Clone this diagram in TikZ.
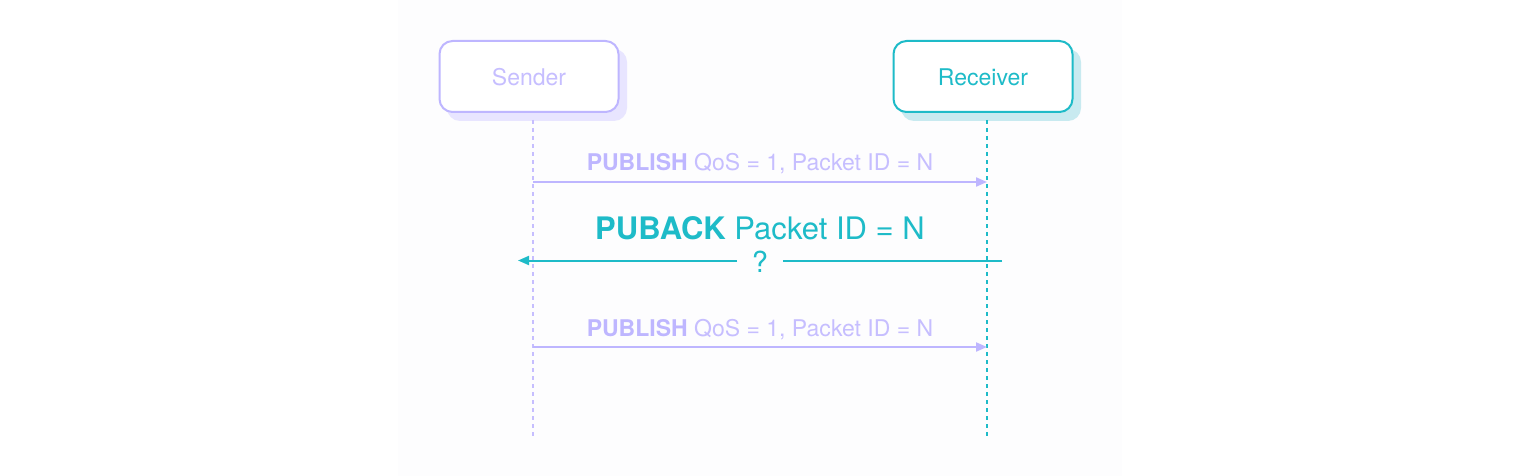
\documentclass[tikz,border=0pt]{standalone}
\usepackage{fontspec}
\setmainfont{TeX Gyre Heros}
\usetikzlibrary{arrows.meta}
\definecolor{lav}{RGB}{190,182,255}
\definecolor{lavtext}{RGB}{198,190,255}
\definecolor{lavshadow}{RGB}{232,229,255}
\definecolor{teal}{RGB}{30,187,200}
\definecolor{tealshadow}{RGB}{200,234,240}
\definecolor{panel}{RGB}{253,253,254}
\tikzset{
  actor/.style={draw=#1, line width=2pt, rounded corners=13pt, fill=white, minimum width=179pt, minimum height=71pt, inner sep=0pt},
  lifeline/.style={draw=#1, line width=2pt, dash pattern=on 4pt off 4pt},
  msg/.style={draw=#1, line width=2pt, -{Triangle[length=11pt,width=9pt]}},
  lbl/.style={anchor=base, inner sep=0pt, font=\fontsize{23}{27}\selectfont},
  biglbl/.style={anchor=base, inner sep=0pt, font=\fontsize{31}{36}\selectfont},
}
\begin{document}
\begin{tikzpicture}[x=1pt,y=-1pt]
\useasboundingbox (0,0) rectangle (1520,476);
\fill[white] (0,0) rectangle (1520,476);
\fill[panel] (398,0) rectangle (1122,476);
% shadows
\fill[lavshadow, rounded corners=13pt] (447,49) rectangle (627,121);
\fill[tealshadow, rounded corners=13pt] (901,49) rectangle (1081,121);
% actors
\node[actor=lav] (sender) at (529,76.5) {};
\node[actor=teal] (receiver) at (983,76.5) {};
\node[lbl, text=lavtext] (sendertxt) at (529,85.5) {Sender};
\node[lbl, text=teal] (receivertxt) at (983,85.5) {Receiver};
% lifelines
\coordinate (s0) at (533,120);
\coordinate (s1) at (533,436);
\coordinate (r0) at (987,120);
\coordinate (r1) at (987,436);
\draw[lifeline=lavtext] (s0) -- (s1);
\draw[lifeline=teal] (r0) -- (r1);
% message 1
\coordinate (m1a) at (533,182);
\coordinate (m1b) at (987,182);
\draw[msg=lav] (m1a) -- (m1b);
\node[lbl] (m1t) at (760,170) {\textcolor{lav}{\bfseries PUBLISH} \textcolor{lavtext}{QoS = 1, Packet ID = N}};
% message 2 (lost)
\coordinate (m2a) at (1002,260.5);
\coordinate (m2g1) at (783,260.5);
\coordinate (m2g2) at (737,260.5);
\coordinate (m2b) at (518,260.5);
\draw[draw=teal, line width=2pt] (m2a) -- (m2g1);
\draw[msg=teal] (m2g2) -- (m2b);
\node[biglbl, text=teal] (m2t) at (760,239) {\bfseries PUBACK \mdseries Packet ID = N};
\node[lbl, text=teal, font=\fontsize{29}{33}\selectfont] (q) at (760,272) {?};
% message 3
\coordinate (m3a) at (533,347);
\coordinate (m3b) at (987,347);
\draw[msg=lav] (m3a) -- (m3b);
\node[lbl] (m3t) at (760,336) {\textcolor{lav}{\bfseries PUBLISH} \textcolor{lavtext}{QoS = 1, Packet ID = N}};
\end{tikzpicture}
\end{document}
